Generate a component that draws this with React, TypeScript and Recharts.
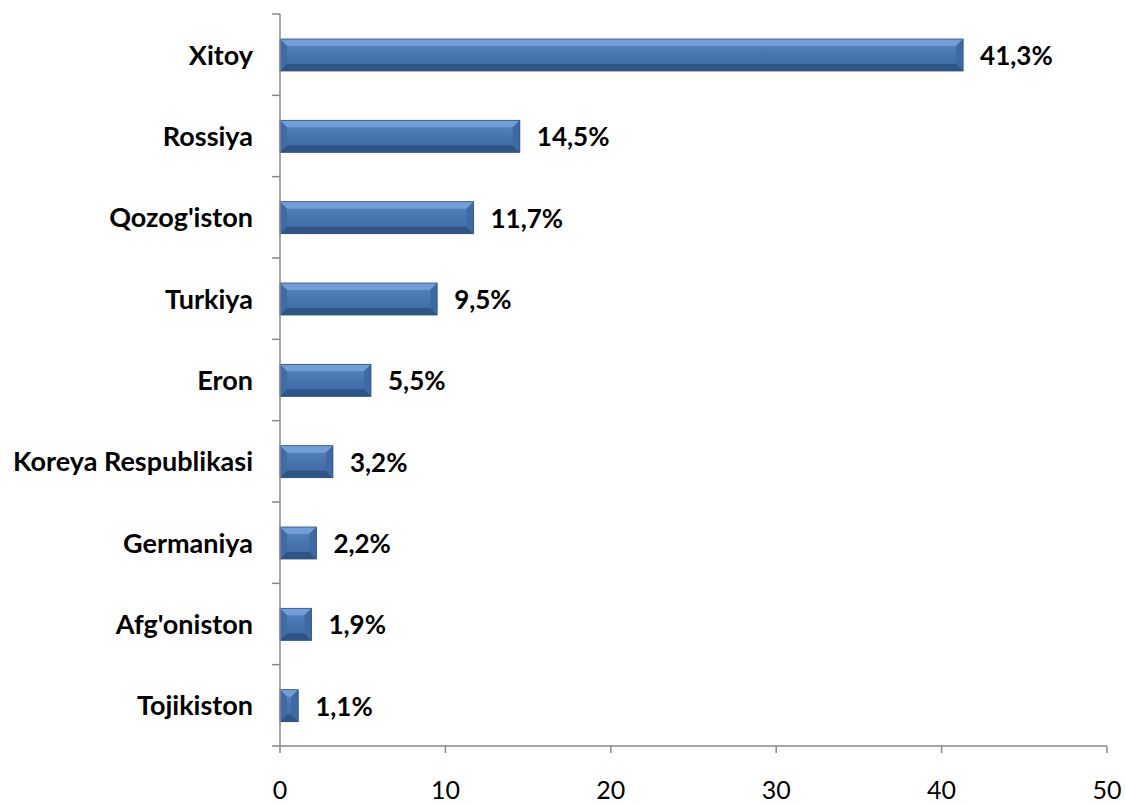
import React from 'react';
import { BarChart, Bar, XAxis, YAxis, LabelList } from 'recharts';

const countries = ['Xitoy', 'Rossiya', "Qozog'iston", 'Turkiya', 'Eron', 'Koreya Respublikasi', 'Germaniya', "Afg'oniston", 'Tojikiston'];
const shares = [41.3, 14.5, 11.7, 9.5, 5.5, 3.2, 2.2, 1.9, 1.1];
const shareLabels = ['41,3%', '14,5%', '11,7%', '9,5%', '5,5%', '3,2%', '2,2%', '1,9%', '1,1%'];
const xTicks = [0, 10, 20, 30, 40, 50];

const data = countries.map((c, i) => ({ name: c, value: shares[i], label: shareLabels[i] }));

const FONT = 'Lato, "Open Sans", sans-serif';
const AXIS = '#8a8a8a';

const BevelBar = (props: any) => {
  const { x, y, width, height } = props;
  if (!width || width <= 0) return null;
  const b = Math.min(7, width / 2, height / 2);
  return (
    <g>
      <rect x={x} y={y} width={width} height={height} fill="url(#barGrad)" />
      <polygon points={`${x},${y} ${x + width},${y} ${x + width - b},${y + b} ${x + b},${y + b}`} fill="#74a0da" opacity={0.9} />
      <polygon points={`${x},${y + height} ${x + width},${y + height} ${x + width - b},${y + height - b} ${x + b},${y + height - b}`} fill="#2f5586" />
      <polygon points={`${x + width},${y} ${x + width},${y + height} ${x + width - b},${y + height - b} ${x + width - b},${y + b}`} fill="#3d6aa4" />
      <polygon points={`${x},${y} ${x},${y + height} ${x + b},${y + height - b} ${x + b},${y + b}`} fill="#3f6ca6" />
      <rect x={x} y={y} width={width} height={height} fill="none" stroke="#2c4f7f" strokeWidth={0.8} />
    </g>
  );
};

const YTick = (props: any) => {
  const { y, payload, index } = props;
  const half = 732 / 9 / 2;
  const ax = 280;
  return (
    <g>
      <line x1={ax - 8} x2={ax} y1={y - half} y2={y - half} stroke={AXIS} strokeWidth={1.5} />
      {index === countries.length - 1 && (
        <line x1={ax - 8} x2={ax} y1={y + half} y2={y + half} stroke={AXIS} strokeWidth={1.5} />
      )}
      <text x={253} y={y} dy={10} textAnchor="end" fontFamily={FONT} fontWeight={700} fontSize={27} fill="#000">
        {payload.value}
      </text>
    </g>
  );
};

const XTick = (props: any) => {
  const { x, payload } = props;
  return (
    <g>
      <line x1={x} x2={x} y1={746} y2={753} stroke={AXIS} strokeWidth={1.5} />
      <text x={x} y={799} textAnchor="middle" fontFamily={FONT} fontSize={25} fill="#000">
        {payload.value}
      </text>
    </g>
  );
};

const ValueLabel = (props: any) => {
  const { x, y, width, height, value } = props;
  return (
    <text x={x + width + 17} y={y + height / 2} dy={10} fontFamily={FONT} fontWeight={700} fontSize={26} fill="#000">
      {value}
    </text>
  );
};

export default function App() {
  return (
    <div style={{ position: 'absolute', left: 0, top: 0, background: '#fff' }}>
      <BarChart
        width={1125}
        height={805}
        data={data}
        layout="vertical"
        margin={{ top: 14, right: 18, bottom: 0, left: 0 }}
        barCategoryGap={0}
      >
        <defs>
          <linearGradient id="barGrad" x1="0" y1="0" x2="0" y2="1">
            <stop offset="0%" stopColor="#5a87c3" />
            <stop offset="50%" stopColor="#4874b0" />
            <stop offset="100%" stopColor="#3d67a0" />
          </linearGradient>
        </defs>
        <XAxis
          type="number"
          domain={[0, 50]}
          ticks={xTicks}
          height={59}
          axisLine={{ stroke: AXIS, strokeWidth: 1.5 }}
          tickLine={false}
          tick={<XTick />}
          interval={0}
        />
        <YAxis
          type="category"
          dataKey="name"
          width={280}
          axisLine={{ stroke: AXIS, strokeWidth: 1.5 }}
          tickLine={false}
          tick={<YTick />}
          interval={0}
        />
        <Bar dataKey="value" barSize={32} shape={<BevelBar />} isAnimationActive={false}>
          <LabelList dataKey="label" content={<ValueLabel />} />
        </Bar>
      </BarChart>
    </div>
  );
}
